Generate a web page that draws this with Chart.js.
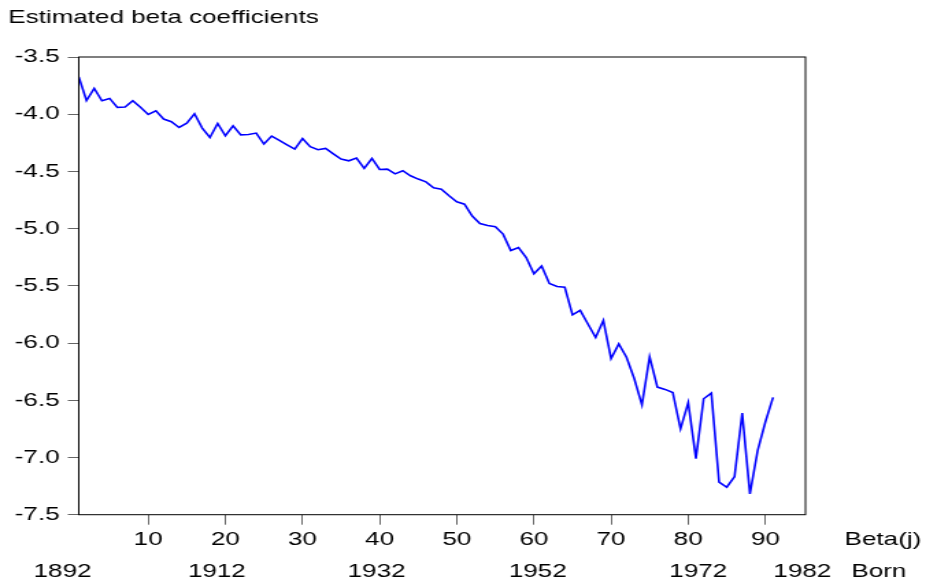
<!DOCTYPE html>
<html>
<head>
<meta charset="utf-8">
<script src="https://cdn.jsdelivr.net/npm/chart.js@4.4.1/dist/chart.umd.min.js"></script>
<style>
  html, body { margin: 0; padding: 0; background: #fff; }
</style>
</head>
<body>
<!-- the original picture is stretched sideways, so the canvas is drawn narrow and widened by css -->
<canvas id="chart" width="676" height="582" style="width:926px;height:582px;display:block"></canvas>
<script>
const chartTitle = 'Estimated beta coefficients';
const xAxisName = 'Beta(j)';
const bornName = 'Born';

// estimated beta(j), j = 1..91
const coefficients = [
  -3.675, -3.880, -3.775, -3.882, -3.862, -3.940, -3.937, -3.882, -3.940, -4.002,
  -3.970, -4.042, -4.066, -4.116, -4.078, -3.996, -4.121, -4.203, -4.081, -4.188,
  -4.101, -4.180, -4.177, -4.165, -4.261, -4.191, -4.229, -4.267, -4.305, -4.213,
  -4.284, -4.310, -4.299, -4.346, -4.392, -4.407, -4.383, -4.474, -4.387, -4.483,
  -4.480, -4.521, -4.494, -4.538, -4.567, -4.591, -4.643, -4.655, -4.713, -4.766,
  -4.786, -4.890, -4.955, -4.973, -4.984, -5.048, -5.191, -5.165, -5.253, -5.395,
  -5.326, -5.480, -5.506, -5.512, -5.754, -5.714, -5.834, -5.952, -5.802, -6.136,
  -6.007, -6.124, -6.310, -6.540, -6.120, -6.385, -6.405, -6.432, -6.750, -6.520,
  -7.010, -6.487, -6.438, -7.215, -7.260, -7.168, -6.612, -7.318, -6.940, -6.690,
  -6.475
];
const betaJ = coefficients.map((_, k) => k + 1);

const xTicks = [10, 20, 30, 40, 50, 60, 70, 80, 90];
const yTicks = [-7.5, -7.0, -6.5, -6.0, -5.5, -5.0, -4.5, -4.0, -3.5];

// second row under the axis: birth years, placed against the beta index
const bornYears = ['1892', '1912', '1932', '1952', '1972', '1982'];
const bornAt = [-1.1, 18.9, 39.6, 60.5, 81.3, 94.8];

const FONT_SIZE = 19;
const FONT_FAMILY = '"Liberation Sans", Arial, sans-serif';

const frameAndText = {
  id: 'frameAndText',
  afterDatasetsDraw(chart) {
    const { ctx, chartArea: a, scales: { x } } = chart;
    ctx.save();
    ctx.strokeStyle = '#000';
    ctx.lineWidth = 1;
    ctx.strokeRect(a.left, a.top, a.right - a.left, a.bottom - a.top);

    ctx.fillStyle = '#000';
    ctx.font = FONT_SIZE + 'px ' + FONT_FAMILY;
    ctx.textBaseline = 'middle';
    ctx.textAlign = 'left';
    ctx.fillText(chartTitle, 6, 18);
    ctx.fillText(xAxisName, a.right + 28.6, 540);
    ctx.fillText(bornName, a.right + 33.5, 572);

    ctx.textAlign = 'center';
    bornYears.forEach((yr, k) => {
      ctx.fillText(yr, x.getPixelForValue(bornAt[k]), 572);
    });
    ctx.restore();
  }
};

new Chart(document.getElementById('chart'), {
  type: 'line',
  data: {
    datasets: [{
      data: coefficients.map((y, k) => ({ x: betaJ[k], y })),
      borderColor: '#0000ff',
      borderWidth: 1.6,
      pointRadius: 0,
      tension: 0,
      fill: false
    }]
  },
  options: {
    responsive: false,
    devicePixelRatio: 1,
    animation: false,
    layout: { padding: { top: 57, right: 88, bottom: 0, left: 0 } },
    plugins: {
      legend: { display: false },
      tooltip: { enabled: false },
      title: { display: false }
    },
    scales: {
      x: {
        type: 'linear',
        min: 1,
        max: 95.2,
        afterBuildTicks: axis => { axis.ticks = xTicks.map(v => ({ value: v })); },
        afterFit: axis => { axis.height = 67.3; },
        grid: { drawOnChartArea: false, drawTicks: true, tickLength: 10, color: '#666' },
        border: { display: false },
        ticks: {
          color: '#000',
          font: { size: FONT_SIZE, family: FONT_FAMILY },
          padding: 4,
          maxRotation: 0,
          autoSkip: false
        }
      },
      y: {
        min: -7.5,
        max: -3.5,
        afterBuildTicks: axis => { axis.ticks = yTicks.map(v => ({ value: v })); },
        afterFit: axis => { axis.width = 57.5; },
        grid: { drawOnChartArea: false, drawTicks: true, tickLength: 8, color: '#666' },
        border: { display: false },
        ticks: {
          color: '#000',
          font: { size: FONT_SIZE, family: FONT_FAMILY },
          padding: 6,
          callback: v => v.toFixed(1)
        }
      }
    }
  },
  plugins: [frameAndText]
});
</script>
</body>
</html>
